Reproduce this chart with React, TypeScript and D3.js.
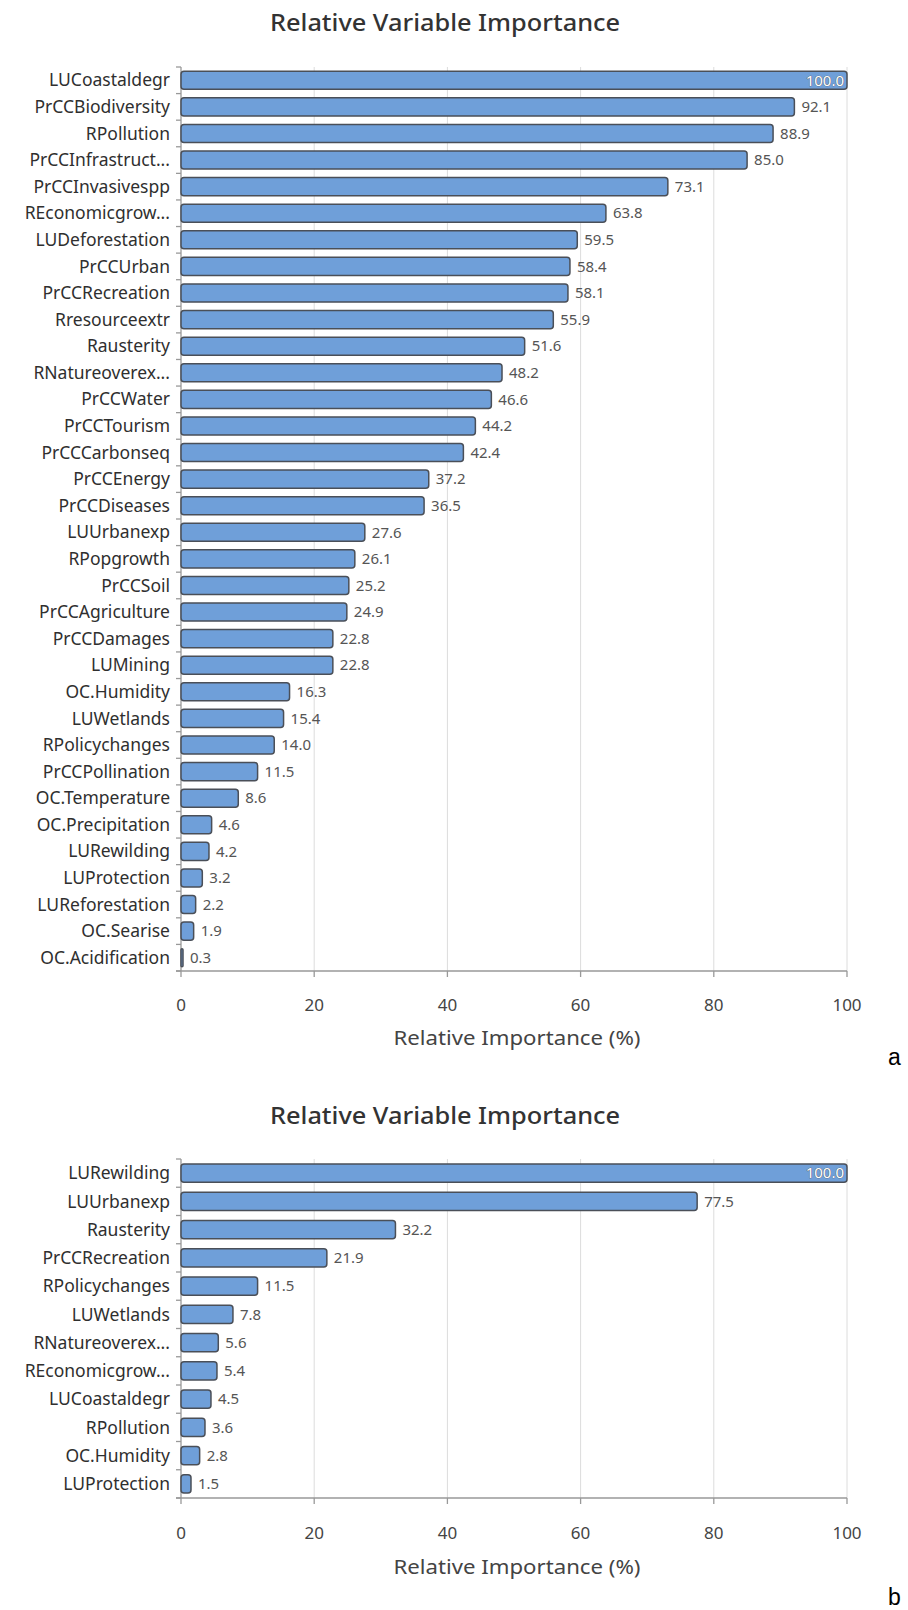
import React from "react";
import * as d3 from "d3";

const namesA = [
  "LUCoastaldegr", "PrCCBiodiversity", "RPollution", "PrCCInfrastruct...", "PrCCInvasivespp",
  "REconomicgrow...", "LUDeforestation", "PrCCUrban", "PrCCRecreation", "Rresourceextr",
  "Rausterity", "RNatureoverex...", "PrCCWater", "PrCCTourism", "PrCCCarbonseq",
  "PrCCEnergy", "PrCCDiseases", "LUUrbanexp", "RPopgrowth", "PrCCSoil",
  "PrCCAgriculture", "PrCCDamages", "LUMining", "OC.Humidity", "LUWetlands",
  "RPolicychanges", "PrCCPollination", "OC.Temperature", "OC.Precipitation", "LURewilding",
  "LUProtection", "LUReforestation", "OC.Searise", "OC.Acidification",
];
const valuesA = [
  100.0, 92.1, 88.9, 85.0, 73.1, 63.8, 59.5, 58.4, 58.1, 55.9,
  51.6, 48.2, 46.6, 44.2, 42.4, 37.2, 36.5, 27.6, 26.1, 25.2,
  24.9, 22.8, 22.8, 16.3, 15.4, 14.0, 11.5, 8.6, 4.6, 4.2,
  3.2, 2.2, 1.9, 0.3,
];

const namesB = [
  "LURewilding", "LUUrbanexp", "Rausterity", "PrCCRecreation", "RPolicychanges", "LUWetlands",
  "RNatureoverex...", "REconomicgrow...", "LUCoastaldegr", "RPollution", "OC.Humidity", "LUProtection",
];
const valuesB = [100.0, 77.5, 32.2, 21.9, 11.5, 7.8, 5.6, 5.4, 4.5, 3.6, 2.8, 1.5];

const xTicks = [0, 20, 40, 60, 80, 100];
const chartTitle = "Relative Variable Importance";
const axisTitle = "Relative Importance (%)";
const panelLetters = ["a", "b"];

const FONT = "'Noto Sans', 'Open Sans', sans-serif";

type PanelProps = {
  names: string[];
  values: number[];
  top: number;
  bottom: number;
  titleY: number;
  tickY: number;
  axisTitleY: number;
  letter: string;
  letterY: number;
  pad: number;
};

function Panel(p: PanelProps) {
  const x = d3.scaleLinear().domain([0, 100]).range([181, 847]);
  const y = d3.scaleBand<string>().domain(p.names).range([p.top, p.bottom]).paddingInner(p.pad).paddingOuter(p.pad / 2);
  const step = y.step();
  const boundaries = d3.range(p.names.length + 1).map((i) => p.top + i * step);
  return (
    <g>
      <text x={445} y={p.titleY} textAnchor="middle" fontSize={24} fontWeight={500} fill="#333" fontFamily={FONT} textLength={350} lengthAdjust="spacingAndGlyphs">
        {chartTitle}
      </text>
      {xTicks.slice(1).map((t) => (
        <line key={"g" + t} x1={x(t)} x2={x(t)} y1={p.top} y2={p.bottom} stroke="#dcdcdc" strokeWidth={1} />
      ))}
      {/* y axis */}
      <line x1={x(0)} x2={x(0)} y1={p.top} y2={p.bottom} stroke="#999" strokeWidth={1.3} />
      {boundaries.map((b, i) => (
        <line key={"yt" + i} x1={x(0) - 5} x2={x(0)} y1={b} y2={b} stroke="#999" strokeWidth={1.3} />
      ))}
      {/* x axis */}
      <line x1={x(0) - 5} x2={x(100)} y1={p.bottom} y2={p.bottom} stroke="#999" strokeWidth={1.3} />
      {xTicks.map((t) => (
        <g key={"xt" + t}>
          <line x1={x(t)} x2={x(t)} y1={p.bottom} y2={p.bottom + 6} stroke="#999" strokeWidth={1.3} />
          <text x={x(t)} y={p.tickY} textAnchor="middle" fontSize={17} fill="#444" fontFamily={FONT}>
            {t}
          </text>
        </g>
      ))}
      {p.names.map((n, i) => {
        const v = p.values[i];
        const yy = y(n)!;
        const w = Math.max(x(v) - x(0), 1.5);
        const cy = yy + y.bandwidth() / 2;
        return (
          <g key={n}>
            <rect x={x(0)} y={yy} width={w} height={y.bandwidth()} rx={Math.min(3, w / 2)} fill="#6f9fd9" stroke="#4a4f58" strokeWidth={1.5} />
            <text x={170} y={cy} dy="0.35em" textAnchor="end" fontSize={17.5} fill="#2f2f2f" fontFamily={FONT}>
              {n}
            </text>
            {v >= 99.95 ? (
              <text x={x(v) - 3} y={cy} dy="0.35em" textAnchor="end" fontSize={15} fill="#fff" stroke="#555" strokeWidth={0.7} paintOrder="stroke" fontFamily={FONT}>
                {v.toFixed(1)}
              </text>
            ) : (
              <text x={x(v) + 7} y={cy} dy="0.35em" textAnchor="start" fontSize={15} fill="#555" fontFamily={FONT}>
                {v.toFixed(1)}
              </text>
            )}
          </g>
        );
      })}
      <text x={517} y={p.axisTitleY} textAnchor="middle" fontSize={19} fill="#444" fontFamily={FONT} textLength={247} lengthAdjust="spacingAndGlyphs">
        {axisTitle}
      </text>
      <text x={888} y={p.letterY} fontSize={23} fill="#000" fontFamily="'Liberation Sans', Arial, sans-serif">
        {p.letter}
      </text>
    </g>
  );
}

export default function App() {
  return (
    <svg width={908} height={1610} style={{ position: "absolute", left: 0, top: 0, background: "#fff" }}>
      <rect x={0} y={0} width={908} height={1610} fill="#fff" />
      <Panel names={namesA} values={valuesA} top={67} bottom={971} titleY={31} tickY={1011} axisTitleY={1045} letter={panelLetters[0]} letterY={1065} pad={0.32} />
      <Panel names={namesB} values={valuesB} top={1159} bottom={1498} titleY={1124} tickY={1539} axisTitleY={1574} letter={panelLetters[1]} letterY={1605} pad={0.36} />
    </svg>
  );
}
